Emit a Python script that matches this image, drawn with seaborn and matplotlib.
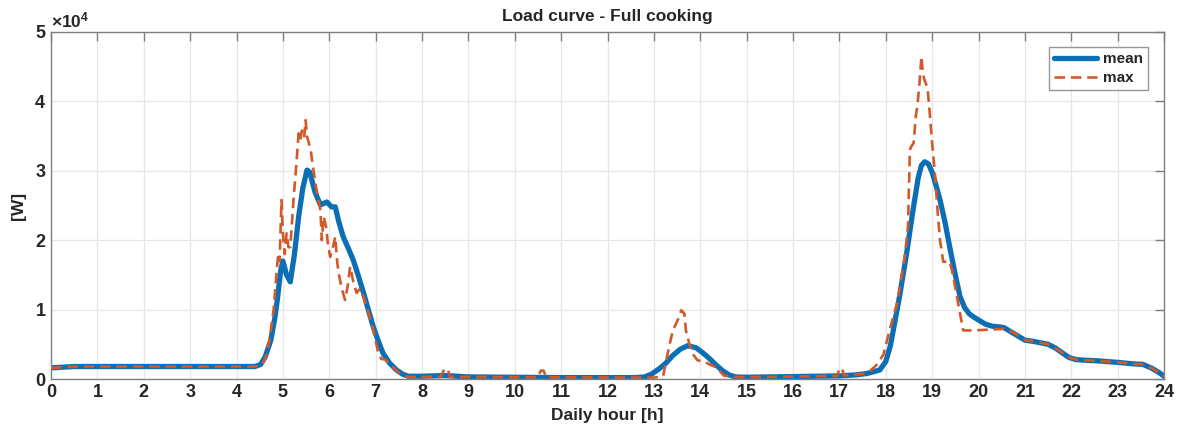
import numpy as np
import pandas as pd
import matplotlib
matplotlib.use("Agg")
import matplotlib.pyplot as plt
import seaborn as sns

# Mean load curve [W] over the day
mean_hours = [0, 0.5, 1, 2, 3, 4, 4.4, 4.52, 4.62, 4.74, 4.82, 4.88, 4.95, 5.0, 5.08,
              5.16, 5.25, 5.34, 5.43, 5.52, 5.58, 5.65, 5.7, 5.81, 5.88, 5.95, 6.05,
              6.13, 6.2, 6.3, 6.4, 6.52, 6.63, 6.74, 6.85, 6.95, 7.05, 7.16, 7.3, 7.45,
              7.58, 7.7, 8.0, 8.5, 9.0, 10, 11, 12, 12.6, 12.8, 12.95, 13.12, 13.26,
              13.41, 13.57, 13.73, 13.91, 14.05, 14.19, 14.33, 14.48, 14.62, 14.76, 15,
              16, 17, 17.37, 17.6, 17.87, 18.0, 18.1, 18.19, 18.3, 18.45, 18.58, 18.7,
              18.77, 18.84, 18.92, 19.0, 19.08, 19.17, 19.28, 19.38, 19.5, 19.6, 19.7,
              19.8, 19.88, 20.0, 20.15, 20.3, 20.46, 20.55, 20.7, 20.85, 21.0, 21.2,
              21.5, 21.65, 21.8, 21.95, 22.1, 22.3, 22.6, 23.0, 23.3, 23.55, 23.75,
              23.9, 24]
mean_load = [1600, 1800, 1800, 1800, 1800, 1800, 1800, 2100, 3200, 5600, 8500, 11400,
             15500, 17000, 15000, 14000, 18000, 23400, 27500, 30100, 29800, 28000,
             26800, 25100, 25300, 25500, 24800, 24800, 22800, 20500, 19000, 17100,
             14800, 12400, 9800, 7500, 5600, 3700, 2300, 1300, 700, 400, 400, 500, 300,
             250, 200, 200, 200, 300, 700, 1500, 2300, 3400, 4300, 4800, 4500, 3800,
             3000, 2100, 1200, 600, 300, 250, 350, 450, 600, 800, 1300, 2500, 4800,
             8000, 12000, 18100, 24000, 29000, 30800, 31300, 31000, 29800, 28000,
             25800, 22500, 19000, 15000, 11900, 10300, 9400, 9000, 8500, 7900, 7600,
             7500, 7400, 6800, 6200, 5600, 5400, 5000, 4500, 3800, 3100, 2800, 2700,
             2600, 2400, 2200, 2100, 1500, 900, 400]

# Maximum load curve [W] over the day
max_hours = [0, 0.5, 4.4, 4.55, 4.65, 4.72, 4.8, 4.86, 4.9, 4.93, 4.97, 5.0, 5.04,
             5.08, 5.12, 5.16, 5.2, 5.24, 5.28, 5.34, 5.38, 5.41, 5.46, 5.49, 5.52,
             5.56, 5.6, 5.63, 5.7, 5.75, 5.81, 5.84, 5.88, 5.93, 5.97, 6.02, 6.08,
             6.13, 6.17, 6.2, 6.27, 6.34, 6.4, 6.45, 6.52, 6.59, 6.66, 6.74, 6.85,
             6.95, 7.05, 7.12, 7.2, 7.3, 7.45, 7.58, 7.7, 8.4, 8.48, 8.56, 8.6, 10.5,
             10.56, 10.62, 10.68, 12.6, 13.0, 13.2, 13.26, 13.34, 13.41, 13.48, 13.55,
             13.59, 13.66, 13.69, 13.76, 13.85, 13.94, 14.09, 14.2, 14.34, 14.51, 14.7,
             15, 16, 16.95, 17.0, 17.06, 17.1, 17.6, 17.8, 17.95, 18.1, 18.25, 18.41,
             18.48, 18.52, 18.55, 18.6, 18.65, 18.68, 18.72, 18.77, 18.8, 18.84, 18.9,
             18.94, 19.0, 19.06, 19.12, 19.17, 19.24, 19.38, 19.45, 19.52, 19.6, 19.67,
             19.88, 20.5, 20.6, 20.8, 21.0, 21.2, 21.5, 21.65, 21.8, 21.95, 22.1, 22.3,
             22.6, 23.0, 23.3, 23.55, 23.75, 23.9, 24]
max_load = [1600, 1800, 1800, 2000, 3500, 6000, 10000, 15000, 18100, 17000, 25800,
            21000, 18000, 21000, 19000, 19000, 23000, 26800, 30000, 35400, 34500,
            35800, 34800, 37300, 35000, 34000, 33000, 31500, 28200, 26500, 24300,
            20000, 23400, 22000, 19500, 17600, 19000, 20500, 17000, 15300, 13000,
            11400, 13500, 16200, 14000, 12400, 13000, 11800, 9500, 7000, 4000, 2900,
            2800, 2200, 1200, 500, 300, 300, 1400, 1400, 300, 250, 1200, 1200, 250,
            200, 200, 400, 2500, 5000, 7000, 8000, 9000, 9900, 9400, 7000, 5200, 3500,
            2700, 2500, 2100, 1700, 500, 300, 250, 350, 450, 1500, 1500, 500, 800,
            2000, 3500, 7500, 11000, 17600, 22000, 33000, 33500, 34000, 38000, 39200,
            42000, 46500, 44000, 43000, 42000, 39000, 34000, 29600, 24000, 20000,
            16900, 16900, 15000, 12400, 9500, 7000, 7000, 7200, 7200, 6500, 5600, 5400,
            5000, 4500, 3800, 3100, 2800, 2700, 2600, 2400, 2200, 2100, 1500, 900, 400]

x_ticks = list(range(0, 25))
y_ticks = [0, 10000, 20000, 30000, 40000, 50000]

df_mean = pd.DataFrame({"hour": mean_hours, "load": mean_load})
df_max = pd.DataFrame({"hour": max_hours, "load": max_load})

sns.set_theme(style="white")
plt.rcParams["font.family"] = ["Liberation Sans", "DejaVu Sans"]
plt.rcParams["font.weight"] = "bold"
plt.rcParams["mathtext.default"] = "regular"

fig = plt.figure(figsize=(11.8, 4.34), dpi=100)
ax = fig.add_axes([51 / 1180, 1 - 379 / 434, (1164 - 51) / 1180, (379 - 32) / 434])

blue = "#0C6FB5"
orange = "#D2592A"
sns.lineplot(data=df_mean, x="hour", y="load", ax=ax, color=blue, lw=3.8,
             label="mean", estimator=None, sort=False)
sns.lineplot(data=df_max, x="hour", y="load", ax=ax, color=orange, lw=1.9,
             label="max", estimator=None, sort=False)
ax.lines[0].set_solid_joinstyle("round")
ax.lines[1].set_dashes((4.0, 2.2))

ax.set_xlim(0, 24)
ax.set_ylim(0, 50000)
ax.set_xticks(x_ticks)
ax.set_yticks(y_ticks)
ax.ticklabel_format(axis="y", style="sci", scilimits=(4, 4), useMathText=True)
off = ax.yaxis.get_offset_text()
off.set_fontsize(12.5)
off.set_color("#262626")
off.set_y(1.01)

ax.grid(True, color="#e6e6e6", lw=0.9)
ax.set_axisbelow(True)
ax.tick_params(direction="in", length=6.5, width=1.0, top=True, right=True,
               labelsize=13, colors="#7f7f7f", labelcolor="#262626")
for lab in ax.get_xticklabels() + ax.get_yticklabels():
    lab.set_fontweight("bold")
for sp in ax.spines.values():
    sp.set_color("#7f7f7f")
    sp.set_linewidth(1.0)

ax.set_title("Load curve - Full cooking", fontsize=12.5, fontweight="bold",
             color="#262626", pad=8)
ax.set_xlabel("Daily hour [h]", fontsize=12.5, fontweight="bold", color="#262626",
              labelpad=5)
ax.set_ylabel("[W]", fontsize=12.5, fontweight="bold", color="#262626", labelpad=6)

leg = ax.legend(loc="upper right", bbox_to_anchor=(0.99, 0.97), fontsize=11,
                frameon=True, fancybox=False, edgecolor="#7f7f7f",
                handlelength=2.8, borderpad=0.35, labelspacing=0.3,
                handletextpad=0.4, borderaxespad=0.3)
leg.get_frame().set_linewidth(1.0)
for t in leg.get_texts():
    t.set_fontweight("bold")
    t.set_color("#262626")

fig.savefig("out.png", dpi=100)
